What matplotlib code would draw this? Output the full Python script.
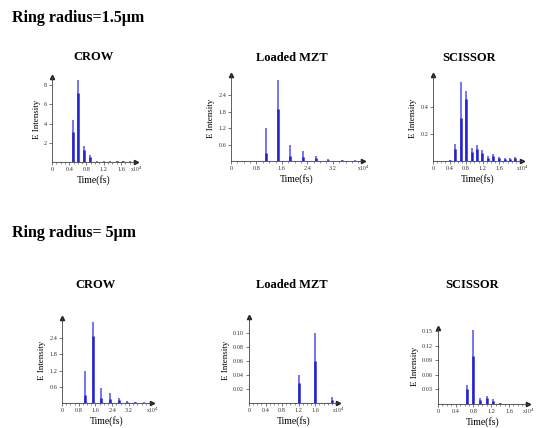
import matplotlib
matplotlib.use("Agg")
import matplotlib.pyplot as plt
from matplotlib.ticker import FixedLocator, FixedFormatter, MultipleLocator

plt.rcParams['font.family'] = ['Liberation Serif', 'DejaVu Serif']

# ---------------- data (time in units of 1e4 fs) ----------------
section_titles = ["Ring radius=1.5\u03bcm", "Ring radius= 5\u03bcm"]
panel_titles = ["CROW", "Loaded MZT", "SCISSOR", "CROW", "Loaded MZT", "SCISSOR"]

crow1_pos = [0.48, 0.61, 0.75, 0.88, 1.05, 1.2, 1.35, 1.5, 1.65, 1.8]
crow1_peak = [4.4, 8.5, 1.7, 0.7, 0.08, 0.06, 0.08, 0.12, 0.1, 0.06]
crow1_core = [3.1, 7.2, 1.25, 0.55, 0.05, 0.04, 0.05, 0.08, 0.06, 0.04]

mzt1_pos = [1.1, 1.47, 1.85, 2.26, 2.67, 3.04, 3.48, 3.9]
mzt1_peak = [1.2, 2.95, 0.57, 0.38, 0.2, 0.08, 0.03, 0.02]
mzt1_core = [0.3, 1.9, 0.2, 0.15, 0.1, 0.05, 0.02, 0.01]

sci1_pos = [0.40, 0.53, 0.67, 0.79, 0.94, 1.06, 1.19, 1.32, 1.46, 1.6, 1.73, 1.86, 1.98]
sci1_peak = [0.01, 0.13, 0.585, 0.52, 0.094, 0.116, 0.08, 0.037, 0.055, 0.03, 0.02, 0.02, 0.03]
sci1_core = [0.005, 0.09, 0.32, 0.46, 0.07, 0.09, 0.06, 0.025, 0.04, 0.02, 0.015, 0.015, 0.02]

crow2_pos = [1.1, 1.47, 1.85, 2.27, 2.7, 3.1, 3.5, 3.9]
crow2_peak = [1.2, 3.0, 0.57, 0.38, 0.2, 0.08, 0.03, 0.02]
crow2_core = [0.3, 2.5, 0.2, 0.15, 0.1, 0.05, 0.02, 0.01]

mzt2_pos = [1.2, 1.6, 2.0]
mzt2_peak = [0.04, 0.10, 0.008]
mzt2_core = [0.028, 0.06, 0.005]

sci2_pos = [0.65, 0.8, 0.94, 1.1, 1.25, 1.4]
sci2_peak = [0.039, 0.153, 0.012, 0.016, 0.01, 0.003]
sci2_core = [0.03, 0.1, 0.008, 0.012, 0.007, 0.002]

x_ticks = {
    "crow1": ([0, 0.4, 0.8, 1.2, 1.6], ["0", "0.4", "0.8", "1.2", "1.6"]),
    "mzt1": ([0, 0.8, 1.6, 2.4, 3.2], ["0", "0.8", "1.6", "2.4", "3.2"]),
    "sci1": ([0, 0.4, 0.8, 1.2, 1.6], ["0", "0.4", "0.8", "1.2", "1.6"]),
    "crow2": ([0, 0.8, 1.6, 2.4, 3.2], ["0", "0.8", "1.6", "2.4", "3.2"]),
    "mzt2": ([0, 0.4, 0.8, 1.2, 1.6], ["0", "0.4", "0.8", "1.2", "1.6"]),
    "sci2": ([0, 0.4, 0.8, 1.2, 1.6], ["0", "0.4", "0.8", "1.2", "1.6"]),
}
y_ticks = {
    "crow1": ([2, 4, 6, 8], ["2", "4", "6", "8"]),
    "mzt1": ([0.6, 1.2, 1.8, 2.4], ["0.6", "1.2", "1.8", "2.4"]),
    "sci1": ([0.2, 0.4], ["0.2", "0.4"]),
    "crow2": ([0.6, 1.2, 1.8, 2.4], ["0.6", "1.2", "1.8", "2.4"]),
    "mzt2": ([0.02, 0.04, 0.06, 0.08, 0.10], ["0.02", "0.04", "0.06", "0.08", "0.10"]),
    "sci2": ([0.03, 0.06, 0.09, 0.12, 0.15], ["0.03", "0.06", "0.09", "0.12", "0.15"]),
}
x_limits = {"crow1": 1.95, "mzt1": 4.15, "sci1": 2.15, "crow2": 4.3, "mzt2": 2.15, "sci2": 2.03}
y_limits = {"crow1": 8.85, "mzt1": 3.13, "sci1": 0.64, "crow2": 3.15, "mzt2": 0.123, "sci2": 0.157}
x_minor = {"crow1": 0.1, "mzt1": 0.2, "sci1": 0.1, "crow2": 0.2, "mzt2": 0.1, "sci2": 0.1}

series = {
    "crow1": (crow1_pos, crow1_peak, crow1_core),
    "mzt1": (mzt1_pos, mzt1_peak, mzt1_core),
    "sci1": (sci1_pos, sci1_peak, sci1_core),
    "crow2": (crow2_pos, crow2_peak, crow2_core),
    "mzt2": (mzt2_pos, mzt2_peak, mzt2_core),
    "sci2": (sci2_pos, sci2_peak, sci2_core),
}
keys = ["crow1", "mzt1", "sci1", "crow2", "mzt2", "sci2"]

# ---------------- layout (pixels) ----------------
W, H = 550, 428
fig = plt.figure(figsize=(W / 100, H / 100), dpi=100)
fig.patch.set_facecolor("white")

boxes = {  # left, right, top, bottom in pixels
    "crow1": (52, 136, 77, 162),
    "mzt1": (231, 363, 75, 161),
    "sci1": (433, 522, 75, 161),
    "crow2": (62, 152, 318, 403),
    "mzt2": (249, 338, 317, 403),
    "sci2": (438, 528, 328, 404),
}
title_pos = [(93, 57), (292, 58), (469, 58), (95, 285), (292, 285), (472, 285)]

fig.text(12 / W, 1 - 18 / H, section_titles[0], fontsize=11.5, weight="bold", va="center", ha="left")
fig.text(12 / W, 1 - 233 / H, section_titles[1], fontsize=11.5, weight="bold", va="center", ha="left")

for i, k in enumerate(keys):
    l, r, t, b = boxes[k]
    ax = fig.add_axes([l / W, 1 - b / H, (r - l) / W, (b - t) / H])
    pos, peak, core = series[k]
    ax.axhline(0, xmin=0, xmax=0.96, color="#5a5aee", lw=0.8, zorder=2)
    ax.vlines(pos, 0, peak, color="#5050f5", lw=1.1, zorder=3)
    ax.vlines(pos, 0, core, color="#2222cc", lw=1.8, zorder=4)
    ax.set_xlim(0, x_limits[k])
    ax.set_ylim(0, y_limits[k])
    for s in ["top", "right"]:
        ax.spines[s].set_visible(False)
    for s in ["left", "bottom"]:
        ax.spines[s].set_color("#444444")
        ax.spines[s].set_linewidth(0.6)
    ax.plot(1, 0, ">", transform=ax.transAxes, clip_on=False, color="#222222", ms=3)
    ax.plot(0, 1, "^", transform=ax.transAxes, clip_on=False, color="#222222", ms=3)
    xt, xl = x_ticks[k]
    yt, yl = y_ticks[k]
    ax.xaxis.set_major_locator(FixedLocator(xt))
    ax.xaxis.set_major_formatter(FixedFormatter(xl))
    ax.yaxis.set_major_locator(FixedLocator(yt))
    ax.yaxis.set_major_formatter(FixedFormatter(yl))
    ax.xaxis.set_minor_locator(MultipleLocator(x_minor[k]))
    ax.tick_params(axis="both", which="major", labelsize=4.5, length=2, width=0.5,
                   color="#444444", pad=1.5, labelcolor="#333333")
    ax.tick_params(axis="x", which="minor", length=1.2, width=0.4, color="#444444")
    ax.text(1.0, -0.035, "x10$^4$", transform=ax.transAxes, fontsize=4.0,
            ha="center", va="top", color="#333333")
    ax.set_xlabel("Time(fs)", fontsize=7, labelpad=2)
    ax.set_ylabel("E Intensity", fontsize=6.5, labelpad=2)
    tx, ty = title_pos[i]
    fig.text(tx / W, 1 - ty / H, panel_titles[i], fontsize=9, weight="bold", ha="center", va="center")

fig.savefig("out.png", dpi=100)
